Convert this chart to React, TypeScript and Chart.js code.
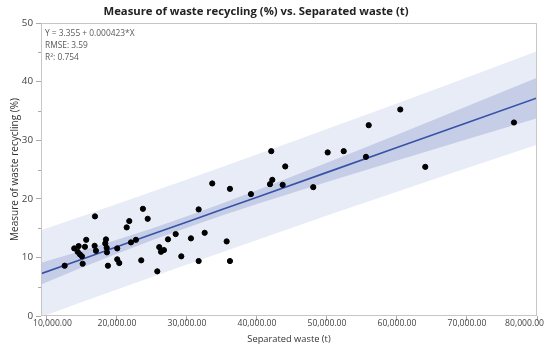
import { useEffect, useRef } from 'react';
import { Chart, registerables } from 'chart.js';

Chart.register(...registerables);

const TITLE = 'Measure of waste recycling (%) vs. Separated waste (t)';
const X_TITLE = 'Separated waste (t)';
const Y_TITLE = 'Measure of waste recycling (%)';
const FIT_TEXT = ['Y = 3.355 + 0.000423*X', 'RMSE: 3.59', 'R²: 0.754'];

// Observations
const separatedWaste = [
  12530, 13900, 14530, 14390, 14710, 15000, 15100, 15430, 15610, 16810,
  16860, 17000, 18330, 18430, 18530, 18570, 18710, 20040, 20040, 20330,
  21390, 21760, 22000, 22710, 23470, 23710, 24390, 25760, 26040, 26290,
  26710, 27290, 28390, 29190, 30570, 31670, 31670, 32530, 33610, 35670,
  36140, 36140, 39140, 41860, 42190, 42040, 43670, 44040, 48040, 50100,
  52390, 55570, 55960, 60470, 64040, 76710,
];
const recyclingRate = [
  8.58, 11.54, 11.93, 10.96, 10.52, 10.18, 8.92, 11.81, 13.0, 11.98,
  17.0, 11.13, 12.39, 13.07, 11.64, 10.86, 8.58, 11.54, 9.67, 9.04,
  15.12, 16.2, 12.56, 13.0, 9.5, 18.29, 16.59, 7.62, 11.76, 10.96,
  11.25, 13.08, 13.98, 10.18, 13.25, 18.19, 9.38, 14.2, 22.62, 12.73,
  21.7, 9.38, 20.8, 22.5, 23.24, 28.13, 22.38, 25.52, 21.99, 27.91,
  28.13, 27.16, 32.56, 35.24, 25.45, 33.02,
];

// Fitted line and bands
const bandX = [9150, 15000, 20000, 25000, 30000, 35000, 40000, 50000, 60000, 70000, 80000];
const fitLine = [7.23, 9.7, 11.82, 13.93, 16.05, 18.16, 20.28, 24.51, 28.74, 32.97, 37.2];
const confUpper = [9.08, 11.12, 13.0, 14.95, 17.02, 19.18, 21.45, 26.15, 30.95, 35.79, 40.65];
const confLower = [5.38, 8.28, 10.64, 12.91, 15.08, 17.14, 19.11, 22.87, 26.53, 30.15, 33.75];
const predUpper = [14.62, 17.03, 19.11, 21.2, 23.31, 25.43, 27.57, 31.89, 36.26, 40.69, 45.18];
const predLower = [-0.16, 2.37, 4.53, 6.66, 8.79, 10.89, 12.99, 17.13, 21.22, 25.25, 29.22];

const X_MIN = 9150;
const X_MAX = 80000;
const X_TICKS = [10000, 20000, 30000, 40000, 50000, 60000, 70000, 80000];
const Y_MIN = 0;
const Y_MAX = 50;
const Y_TICKS = [0, 10, 20, 30, 40, 50];
const Y_MINOR = [5, 15, 25, 35, 45];

const FONT = '"Open Sans", "Noto Sans", sans-serif';

const toXY = (xs: number[], ys: number[]) => xs.map((x, i) => ({ x, y: ys[i] }));

const fmtX = (v: number) =>
  v.toLocaleString('en-US', { minimumFractionDigits: 2, maximumFractionDigits: 2 });

const decorPlugin = {
  id: 'decor',
  afterDatasetsDraw(chart: any) {
    const { ctx, chartArea } = chart;
    ctx.save();
    ctx.strokeStyle = '#c6c6c6';
    ctx.lineWidth = 1;
    ctx.strokeRect(
      Math.round(chartArea.left) + 0.5,
      Math.round(chartArea.top) + 0.5,
      Math.round(chartArea.right - chartArea.left) - 1,
      Math.round(chartArea.bottom - chartArea.top) - 1
    );
    ctx.restore();
  },
  afterDraw(chart: any) {
    const { ctx, chartArea, scales } = chart;
    ctx.save();
    // title
    ctx.fillStyle = '#222';
    ctx.font = `bold 11.3px ${FONT}`;
    ctx.textAlign = 'center';
    ctx.textBaseline = 'middle';
    ctx.fillText(TITLE, 256, 12);

    // fit annotation
    ctx.fillStyle = '#5a5a5a';
    ctx.font = `8.4px ${FONT}`;
    ctx.textAlign = 'left';
    FIT_TEXT.forEach((t, i) => {
      ctx.fillText(t, chartArea.left + 4, chartArea.top + 11 + i * 12);
    });

    // x tick labels, clamped inside the figure
    const xs = scales.x;
    ctx.fillStyle = '#444';
    ctx.font = `8.6px ${FONT}`;
    ctx.textAlign = 'center';
    xs.ticks.forEach((t: any) => {
      const px = xs.getPixelForValue(t.value);
      const label = fmtX(t.value);
      const w = ctx.measureText(label).width;
      let cx = Math.max(px, chartArea.left - 8 + w / 2);
      cx = Math.min(cx, chart.width - 6 - w / 2);
      ctx.fillText(label, cx, chartArea.bottom + 8);
    });

    // minor y ticks
    const ys = scales.y;
    ctx.strokeStyle = '#aaa';
    ctx.lineWidth = 1;
    Y_MINOR.forEach((v) => {
      const py = Math.round(ys.getPixelForValue(v)) + 0.5;
      ctx.beginPath();
      ctx.moveTo(chartArea.left - 3, py);
      ctx.lineTo(chartArea.left, py);
      ctx.stroke();
    });
    ctx.restore();
  },
};

export default function App() {
  const canvasRef = useRef<HTMLCanvasElement | null>(null);

  useEffect(() => {
    document.body.style.margin = '0';
    const canvas = canvasRef.current;
    if (!canvas) return;
    const chart = new Chart(canvas, {
      type: 'scatter',
      data: {
        datasets: [
          {
            type: 'scatter',
            data: toXY(separatedWaste, recyclingRate),
            backgroundColor: '#000',
            borderColor: '#000',
            pointRadius: 2.6,
            pointHoverRadius: 2.6,
            order: 0,
          },
          {
            type: 'line',
            data: toXY(bandX, fitLine),
            borderColor: '#3752a6',
            borderWidth: 1.6,
            pointRadius: 0,
            fill: false,
            order: 1,
          },
          {
            type: 'line',
            data: toXY(bandX, confUpper),
            borderWidth: 0,
            borderColor: 'rgba(0,0,0,0)',
            backgroundColor: '#c6cee7',
            pointRadius: 0,
            fill: '+1',
            order: 2,
          },
          {
            type: 'line',
            data: toXY(bandX, confLower),
            borderWidth: 0,
            borderColor: 'rgba(0,0,0,0)',
            pointRadius: 0,
            fill: false,
            order: 2,
          },
          {
            type: 'line',
            data: toXY(bandX, predUpper),
            borderWidth: 0,
            borderColor: 'rgba(0,0,0,0)',
            backgroundColor: '#e7ecf6',
            pointRadius: 0,
            fill: '+1',
            order: 3,
          },
          {
            type: 'line',
            data: toXY(bandX, predLower),
            borderWidth: 0,
            borderColor: 'rgba(0,0,0,0)',
            pointRadius: 0,
            fill: false,
            order: 3,
          },
        ] as any,
      },
      options: {
        animation: false,
        responsive: true,
        maintainAspectRatio: false,
        layout: { padding: { top: 23, right: 13, left: 0, bottom: 0 } },
        plugins: {
          legend: { display: false },
          tooltip: { enabled: false },
          title: { display: false },
        },
        scales: {
          x: {
            type: 'linear',
            min: X_MIN,
            max: X_MAX,
            grid: { display: true, drawOnChartArea: false, drawTicks: true, tickLength: 5, color: '#aaa' },
            border: { display: false },
            ticks: { display: false },
            afterBuildTicks: (s: any) => {
              s.ticks = X_TICKS.map((value) => ({ value }));
            },
            title: {
              display: true,
              text: X_TITLE,
              color: '#333',
              font: { family: FONT, size: 9.3 },
              padding: { top: 0, bottom: 7 },
            },
            afterFit: (s: any) => {
              s.height = 36;
              s.paddingLeft = 0;
              s.paddingRight = 0;
            },
          },
          y: {
            type: 'linear',
            min: Y_MIN,
            max: Y_MAX,
            grid: { display: true, drawOnChartArea: false, drawTicks: true, tickLength: 5, color: '#aaa' },
            border: { display: false },
            afterBuildTicks: (s: any) => {
              s.ticks = Y_TICKS.map((value) => ({ value }));
            },
            ticks: {
              color: '#444',
              padding: 3,
              font: { family: FONT, size: 9.8 },
            },
            title: {
              display: true,
              text: Y_TITLE,
              color: '#333',
              font: { family: FONT, size: 10 },
              padding: { top: 9, bottom: 0 },
            },
            afterFit: (s: any) => {
              s.width = 41;
              s.paddingTop = 0;
              s.paddingBottom = 0;
            },
          },
        },
      },
      plugins: [decorPlugin],
    });
    return () => chart.destroy();
  }, []);

  return (
    <div style={{ position: 'relative', width: 550, height: 352 }}>
      <canvas ref={canvasRef} />
    </div>
  );
}
